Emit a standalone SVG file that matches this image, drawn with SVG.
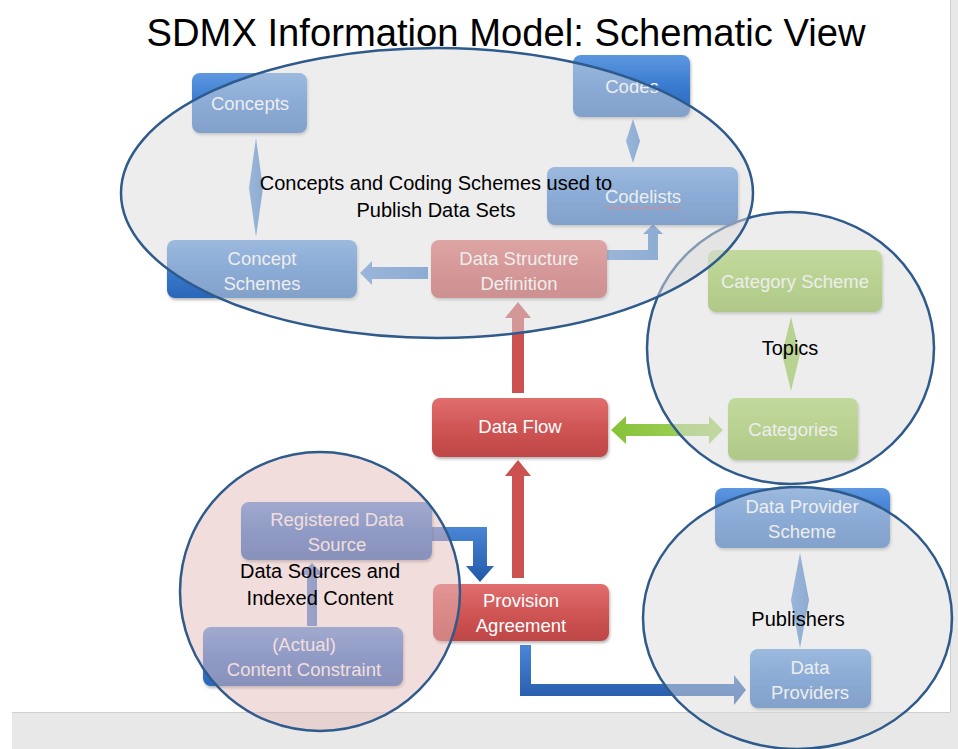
<svg xmlns="http://www.w3.org/2000/svg" width="958" height="749" viewBox="0 0 958 749">
<defs>
<linearGradient id="gBlue" x1="0" y1="0" x2="0" y2="1">
<stop offset="0" stop-color="#5d97e0"/><stop offset="0.5" stop-color="#3a7bd0"/><stop offset="1" stop-color="#2a66b8"/>
</linearGradient>
<linearGradient id="gRed" x1="0" y1="0" x2="0" y2="1">
<stop offset="0" stop-color="#e06e6e"/><stop offset="0.5" stop-color="#d05555"/><stop offset="1" stop-color="#bf4646"/>
</linearGradient>
<linearGradient id="gGreen" x1="0" y1="0" x2="0" y2="1">
<stop offset="0" stop-color="#a9d660"/><stop offset="0.5" stop-color="#95c846"/><stop offset="1" stop-color="#84b638"/>
</linearGradient>
<linearGradient id="gArrowBlue" x1="0" y1="0" x2="1" y2="0">
<stop offset="0" stop-color="#5a8fd6"/><stop offset="1" stop-color="#3f7cc9"/>
</linearGradient>
<linearGradient id="gDark" x1="0" y1="0" x2="0" y2="1">
<stop offset="0" stop-color="#4a86d6"/><stop offset="1" stop-color="#2458a8"/>
</linearGradient>
<linearGradient id="gLime" x1="0" y1="0" x2="1" y2="0">
<stop offset="0" stop-color="#86c236"/><stop offset="1" stop-color="#a8d46a"/>
</linearGradient>
<filter id="sh" x="-10%" y="-10%" width="120%" height="130%">
<feDropShadow dx="1" dy="2" stdDeviation="1.5" flood-color="#000" flood-opacity="0.3"/>
</filter>
</defs>
<style>
.node rect{filter:url(#sh);}
.blue rect{fill:url(#gBlue);}
.red rect{fill:url(#gRed);}
.green rect{fill:url(#gGreen);}
.nt{font-family:"Liberation Sans",Arial,sans-serif;font-size:18.5px;fill:#ffffff;text-anchor:middle;}
.lbl{font-family:"Liberation Sans",Arial,sans-serif;font-size:20px;fill:#000000;text-anchor:middle;}
.region{stroke:#2f5a8c;stroke-width:2.5;}
.gray{fill:#dcdcdc;fill-opacity:0.5;}
.pink{fill:#e6bcbc;fill-opacity:0.5;}
.lb{fill:url(#gArrowBlue);}
.db{fill:url(#gDark);}
.ra{fill:#cc5252;}
</style>
<rect x="0" y="0" width="958" height="749" fill="#ffffff"/>
<rect x="950" y="0" width="8" height="749" fill="#e8e8e8"/>
<line x1="950.5" y1="0" x2="950.5" y2="712" stroke="#cfcfcf" stroke-width="1"/>
<rect x="12" y="712" width="946" height="37" fill="#e8e8e8"/>
<line x1="12" y1="712.5" x2="950" y2="712.5" stroke="#cfcfcf" stroke-width="1"/>
<text x="506" y="46" font-family="'Liberation Sans',Arial,sans-serif" font-size="38" fill="#000" text-anchor="middle" textLength="719" lengthAdjust="spacingAndGlyphs">SDMX Information Model: Schematic View</text>

<g id="connectors">
<polygon class="lb" points="256,138 263,188 256,237 249,188"/>
<polygon class="lb" points="633,119 640,141 633,163 626,141"/>
<polygon class="lb" points="428,267 372,267 372,261 360,273 372,285 372,279 428,279"/>
<polygon class="lb" points="607,250 648,250 648,234 643,234 653,224 663,234 658,234 658,260 607,260"/>
<polygon class="ra" points="512,393 512,318 505,318 518,302 531,318 524,318 524,393"/>
<polygon class="ra" points="512,578 512,476 505,476 518,460 531,476 524,476 524,578"/>
<polygon fill="url(#gLime)" points="611,430 626,416 626,424 709,424 709,416 723,430 709,444 709,436 626,436 626,444"/>
<polygon fill="#95c846" points="791,317 800,354 791,391 782,354"/>
<polygon class="db" points="432,527 487,527 487,566 494,566 480,582 466,566 473,566 473,541 432,541"/>
<polygon class="lb" points="307,626 307,575 300,575 312,563 324,575 317,575 317,626"/>
<polygon class="db" points="520,645 531,645 531,684 734,684 734,675 746,690 734,705 734,696 520,696"/>
<polygon class="lb" points="800,553 809,600 800,648 791,600"/>
</g>

<g id="concepts" class="node blue"><rect x="192" y="73" width="115" height="60" rx="8"/><text class="nt" x="250" y="110">Concepts</text></g>
<g id="codes" class="node blue"><rect x="573" y="55" width="117" height="62" rx="8"/><text class="nt" x="632" y="93">Codes</text></g>
<g id="codelists" class="node blue"><rect x="547" y="167" width="191" height="58" rx="8"/><text class="nt" x="643" y="203">Codelists</text><path d="M604,208 q2,-2 4,0 t4,0 t4,0 t4,0 t4,0 t4,0 t4,0 t4,0 t4,0 t4,0 t4,0 t4,0 t4,0 t4,0 t4,0 t4,0 t4,0 t4,0 t4,0" fill="none" stroke="#e03030" stroke-width="1"/></g>
<g id="concept-schemes" class="node blue"><rect x="167" y="240" width="190" height="58" rx="8"/><text class="nt" x="262" y="265">Concept</text><text class="nt" x="262" y="290">Schemes</text></g>
<g id="dsd" class="node red"><rect x="431" y="240" width="176" height="58" rx="8"/><text class="nt" x="519" y="265">Data Structure</text><text class="nt" x="519" y="290">Definition</text></g>
<g id="category-scheme" class="node green"><rect x="708" y="250" width="174" height="62" rx="8"/><text class="nt" x="795" y="288">Category Scheme</text></g>
<g id="categories" class="node green"><rect x="728" y="398" width="130" height="62" rx="8"/><text class="nt" x="793" y="436">Categories</text></g>
<g id="data-flow" class="node red"><rect x="432" y="398" width="176" height="59" rx="8"/><text class="nt" x="520" y="433">Data Flow</text></g>
<g id="registered-data-source" class="node blue"><rect x="241" y="502" width="191" height="58" rx="8"/><text class="nt" x="337" y="526">Registered Data</text><text class="nt" x="337" y="551">Source</text></g>
<g id="content-constraint" class="node blue"><rect x="203" y="627" width="200" height="59" rx="8"/><text class="nt" x="304" y="651">(Actual)</text><text class="nt" x="304" y="676">Content Constraint</text></g>
<g id="provision-agreement" class="node red"><rect x="433" y="584" width="176" height="57" rx="8"/><text class="nt" x="521" y="607">Provision</text><text class="nt" x="521" y="632">Agreement</text></g>
<g id="data-provider-scheme" class="node blue"><rect x="715" y="488" width="175" height="60" rx="8"/><text class="nt" x="802" y="513">Data Provider</text><text class="nt" x="802" y="538">Scheme</text></g>
<g id="data-providers" class="node blue"><rect x="750" y="649" width="121" height="59" rx="8"/><text class="nt" x="810" y="674">Data</text><text class="nt" x="810" y="699">Providers</text></g>

<g id="region-topics"><ellipse class="region gray" cx="790.5" cy="348" rx="143.5" ry="136"/><text class="lbl" x="790" y="355">Topics</text></g>
<g id="region-concepts"><ellipse class="region gray" cx="437" cy="193" rx="316" ry="145"/><text class="lbl" x="436" y="190">Concepts and Coding Schemes used to</text><text class="lbl" x="436" y="217">Publish Data Sets</text></g>
<g id="region-sources"><ellipse class="region pink" cx="320" cy="591.5" rx="140" ry="139.5"/><text class="lbl" x="320" y="578">Data Sources and</text><text class="lbl" x="320" y="605">Indexed Content</text></g>
<g id="region-publishers"><ellipse class="region gray" cx="797.5" cy="618" rx="154.5" ry="131"/><text class="lbl" x="798" y="626">Publishers</text></g>
</svg>
